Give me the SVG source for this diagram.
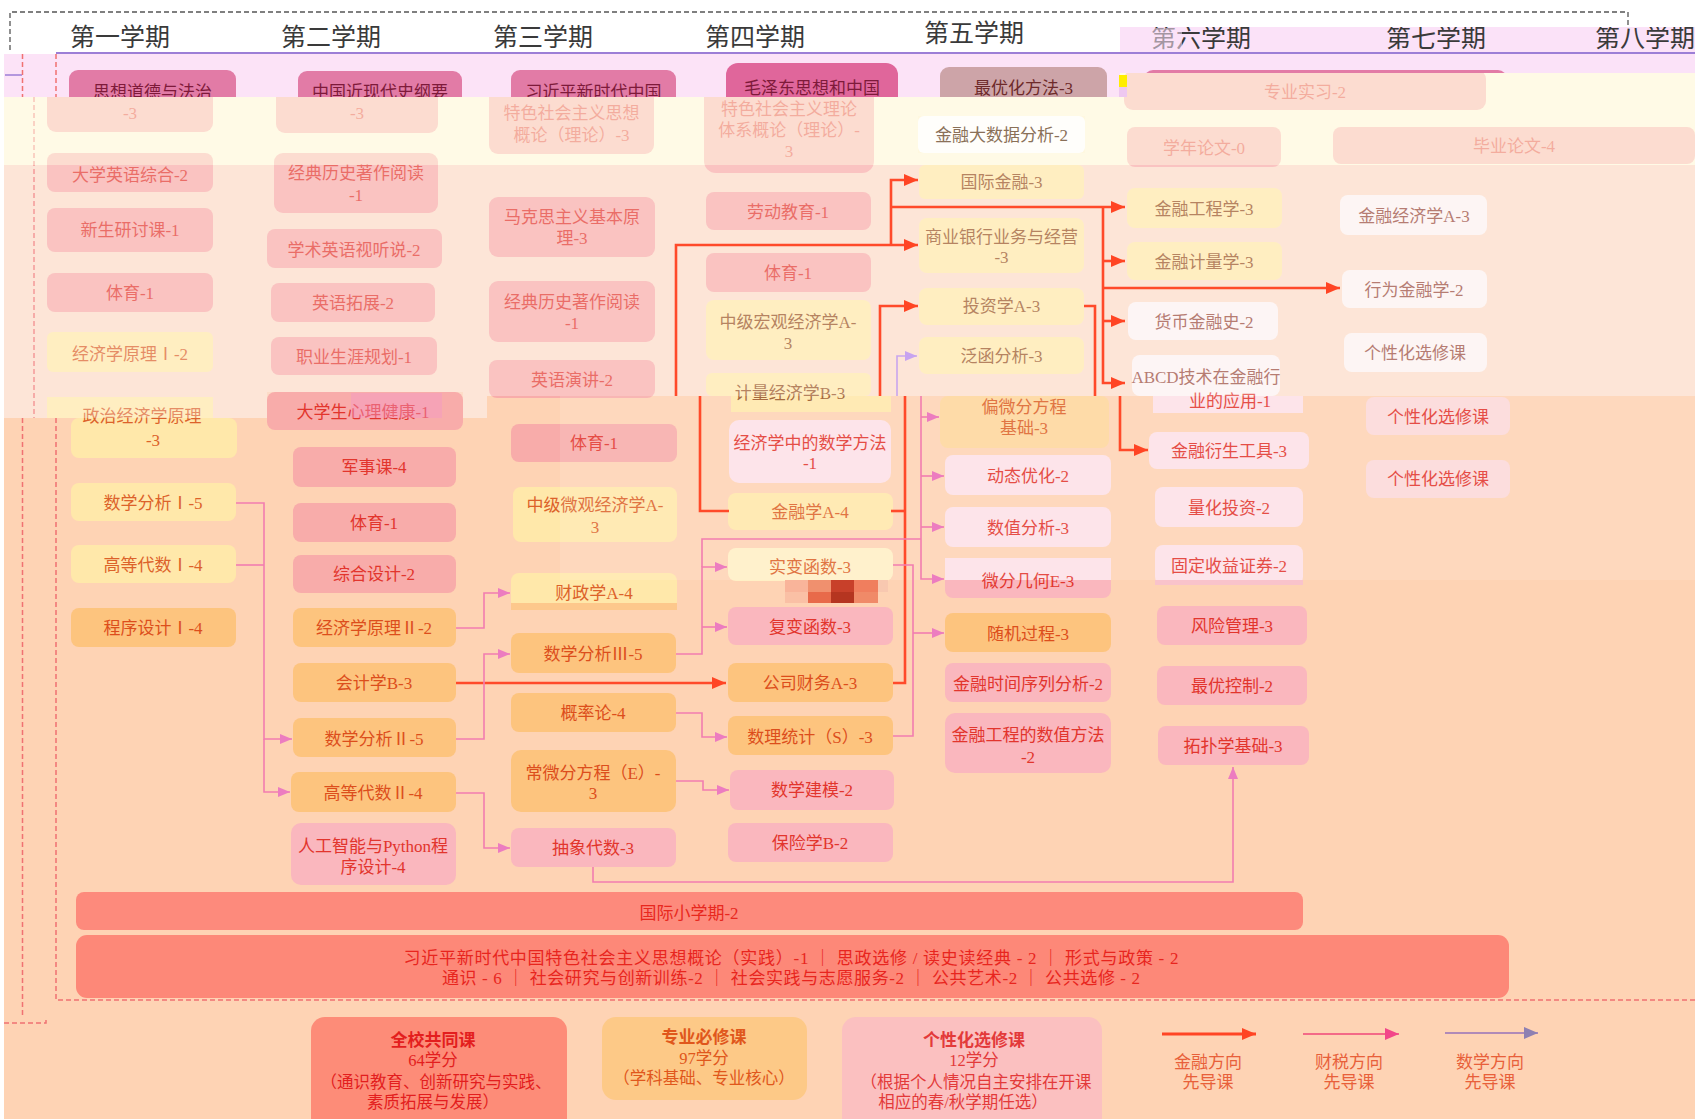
<svg xmlns="http://www.w3.org/2000/svg" width="1695" height="1119" viewBox="0 0 1695 1119">
<style>
text{font-family:"Liberation Serif","Noto Sans CJK SC","Noto Sans CJK JP",serif;font-size:17px;text-anchor:middle}
.hd{font-size:25px;fill:#3A3A3A}
.sal{fill:#F8ACAA}.yel{fill:#FFE8AA}.org{fill:#FDC47E}.pnk{fill:#FAB7BE}.lpk{fill:#FDE1E7}.top{fill:#E27BA6}.po{fill:#FED79C}
.tr{fill:#E2352D}.ty{fill:#DC622A}.tyb{fill:#9A5424}.to{fill:#DC4E1C}.tm{fill:#7E1A3A}.tbr{fill:#9A4A3C}
.cr{fill:none;stroke:#FF4A2A;stroke-width:2.6}
.cp{fill:none;stroke:#F27DB0;stroke-width:1.6}
.cl{fill:none;stroke:#C9A6EE;stroke-width:1.6}
.dsh{fill:none;stroke:#F07272;stroke-width:1.5;stroke-dasharray:5 3}
.lg{font-size:16.5px}
.lt{font-size:17px;fill:#E8603A}
</style>
<defs>
<clipPath id="cT"><rect x="0" y="0" width="1120" height="97"/><rect x="1120" y="0" width="575" height="73"/></clipPath>
<clipPath id="cM"><rect x="0" y="97" width="1120" height="1022"/><rect x="1120" y="73" width="575" height="1046"/></clipPath>
<marker id="mR" viewBox="0 0 14 12" refX="14" refY="6" markerWidth="14" markerHeight="12" markerUnits="userSpaceOnUse" orient="auto"><path d="M0,0L14,6L0,12z" fill="#FF4524"/></marker>
<marker id="mP" viewBox="0 0 12 10" refX="12" refY="5" markerWidth="12" markerHeight="10" markerUnits="userSpaceOnUse" orient="auto"><path d="M0,0L12,5L0,10z" fill="#EC7CC0"/></marker>
<marker id="mL" viewBox="0 0 12 10" refX="12" refY="5" markerWidth="12" markerHeight="10" markerUnits="userSpaceOnUse" orient="auto"><path d="M0,0L12,5L0,10z" fill="#C7A3F0"/></marker>
<marker id="mF" viewBox="0 0 14 12" refX="14" refY="6" markerWidth="14" markerHeight="12" markerUnits="userSpaceOnUse" orient="auto"><path d="M0,0L14,6L0,12z" fill="#F2468A"/></marker>
<marker id="mM" viewBox="0 0 14 12" refX="14" refY="6" markerWidth="14" markerHeight="12" markerUnits="userSpaceOnUse" orient="auto"><path d="M0,0L14,6L0,12z" fill="#8E80B2"/></marker>
</defs>

<!-- backgrounds -->
<rect x="0" y="0" width="1695" height="1119" fill="#FFFFFF"/>
<rect x="4" y="396" width="1691" height="723" fill="#FED3B4"/>
<polygon points="4,165 1695,165 1695,396 487,396 487,418 4,418" fill="#FDDCC8"/>
<rect x="4" y="97" width="1116" height="68" fill="#FFF8E0"/>
<rect x="1120" y="73" width="575" height="92" fill="#FFF8E0"/>
<rect x="4" y="54" width="1116" height="43" fill="#FCE3F7"/>
<rect x="1120" y="27" width="575" height="46" fill="#FBE2F8"/>

<!-- frame lines -->
<g id="frame">
<path d="M56,53 H1695" stroke="#9C7ED6" stroke-width="2" fill="none"/>
<path d="M5,75 H22" stroke="#9C7ED6" stroke-width="1.5" fill="none"/>
<path class="dsh" d="M22.5,54 V97 M56,54 V97"/>
<path class="dsh" d="M34,97 V418" stroke="#F4A6A6"/>
<path class="dsh" d="M22.5,418 V1017 M56,418 V1000 H1695 M4,1023 H46 V1018"/>
</g>

<!-- top nodes (pink band part + shifted faded part) -->
<g id="n-szdd">
<g clip-path="url(#cT)"><rect class="top" x="69" y="70" width="167" height="62" rx="9"/><text class="tm" x="152.5" y="98">思想道德与法治</text></g>
<g clip-path="url(#cM)"><rect class="sal" x="47" y="70" width="166" height="62" rx="9"/><text class="tr" x="130" y="119">-3</text></g>
</g>
<g id="n-zgjxd">
<g clip-path="url(#cT)"><rect class="top" x="298" y="71" width="164" height="62" rx="9"/><text class="tm" x="380" y="98">中国近现代史纲要</text></g>
<g clip-path="url(#cM)"><rect class="sal" x="276" y="71" width="162" height="62" rx="9"/><text class="tr" x="357" y="119">-3</text></g>
</g>
<g id="n-xjp">
<g clip-path="url(#cT)"><rect class="top" x="511" y="70" width="165" height="84" rx="9"/><text class="tm" x="593.5" y="98">习近平新时代中国</text></g>
<g clip-path="url(#cM)"><rect class="sal" x="489" y="70" width="165" height="84" rx="9"/><text class="tr"><tspan x="571.5" y="119">特色社会主义思想</tspan><tspan x="571.5" y="141">概论（理论）-3</tspan></text></g>
</g>
<g id="n-mzd">
<g clip-path="url(#cT)"><rect x="726" y="63" width="172" height="110" rx="12" fill="#E0669B"/><text class="tm" x="812" y="94">毛泽东思想和中国</text></g>
<g clip-path="url(#cM)"><rect class="sal" x="704" y="63" width="170" height="110" rx="12"/><text class="tr"><tspan x="789" y="115">特色社会主义理论</tspan><tspan x="789" y="136">体系概论（理论）-</tspan><tspan x="789" y="157">3</tspan></text></g>
</g>
<g id="n-zyh">
<g clip-path="url(#cT)"><rect x="940" y="67" width="167" height="45" rx="9" fill="#CDA4A8"/><text x="1023.5" y="94" fill="#6E2A2A">最优化方法-3</text></g>
</g>
<g id="n-zysx">
<g clip-path="url(#cT)"><rect class="top" x="1144" y="70" width="363" height="40" rx="9"/></g>
<g clip-path="url(#cM)"><rect class="sal" x="1124" y="70" width="362" height="40" rx="9"/><text class="tr" x="1305" y="98">专业实习-2</text></g>
</g>

<!-- upper/middle nodes -->
<g id="n-jrdsj"><rect x="918" y="116" width="167" height="37" rx="6" fill="#FFFEFB"/><text x="1001.5" y="141" fill="#8A7058">金融大数据分析-2</text></g>
<g id="n-xnlw"><rect class="sal" x="1127" y="127" width="154" height="40" rx="8"/><text class="tr" x="1204" y="154">学年论文-0</text></g>
<g id="n-bylw"><rect class="sal" x="1333" y="127" width="362" height="37" rx="8"/><text class="tr" x="1514" y="152">毕业论文-4</text></g>

<g id="n-dxyy"><rect class="sal" x="47" y="153" width="166" height="39" rx="8"/><text class="tr" x="130" y="181">大学英语综合-2</text></g>
<g id="n-xsyt"><rect class="sal" x="47" y="208" width="166" height="44" rx="8"/><text class="tr" x="130" y="236">新生研讨课-1</text></g>
<g id="n-ty1"><rect class="sal" x="47" y="273" width="166" height="39" rx="8"/><text class="tr" x="130" y="299">体育-1</text></g>
<g id="n-jjxyl1"><rect class="yel" x="47" y="332" width="166" height="40" rx="6"/><text class="ty" x="130" y="360">经济学原理Ⅰ-2</text></g>
<g id="n-zzjj"><rect class="yel" x="47" y="397" width="166" height="21"/><rect class="yel" x="71" y="418" width="166" height="40" rx="8"/><text class="ty"><tspan x="142" y="422">政治经济学原理</tspan><tspan x="153" y="446">-3</tspan></text></g>

<g id="n-jdls1"><rect class="sal" x="274" y="153" width="164" height="60" rx="9"/><text class="tr"><tspan x="356" y="179">经典历史著作阅读</tspan><tspan x="356" y="201">-1</tspan></text></g>
<g id="n-xsyy"><rect class="sal" x="267" y="229" width="175" height="39" rx="8"/><text class="tr" x="354" y="256">学术英语视听说-2</text></g>
<g id="n-yytz"><rect class="sal" x="271" y="283" width="164" height="39" rx="8"/><text class="tr" x="353" y="309">英语拓展-2</text></g>
<g id="n-zysy"><rect class="sal" x="271" y="337" width="166" height="38" rx="8"/><text class="tr" x="354" y="363">职业生涯规划-1</text></g>

<g id="n-mks"><rect class="sal" x="489" y="197" width="166" height="60" rx="9"/><text class="tr"><tspan x="572" y="223">马克思主义基本原</tspan><tspan x="572" y="244">理-3</tspan></text></g>
<g id="n-jdls2"><rect class="sal" x="489" y="281" width="166" height="61" rx="9"/><text class="tr"><tspan x="572" y="308">经典历史著作阅读</tspan><tspan x="572" y="329">-1</tspan></text></g>
<g id="n-yyyj"><rect class="sal" x="489" y="360" width="166" height="38" rx="8"/><text class="tr" x="572" y="386">英语演讲-2</text></g>

<g id="n-ldjy"><rect class="sal" x="706" y="192" width="165" height="38" rx="8"/><text class="tr" x="788" y="218">劳动教育-1</text></g>
<g id="n-ty4"><rect class="sal" x="706" y="253" width="165" height="39" rx="8"/><text class="tr" x="788" y="279">体育-1</text></g>
<g id="n-zjhg"><rect class="yel" x="706" y="300" width="165" height="60" rx="8"/><text class="tyb"><tspan x="788" y="328">中级宏观经济学A-</tspan><tspan x="788" y="349">3</tspan></text></g>
<g id="n-jljj"><rect class="yel" x="706" y="373" width="165" height="23" rx="6"/><rect class="yel" x="731" y="396" width="160" height="16"/><text class="tyb" x="790" y="399">计量经济学B-3</text></g>

<g id="n-gjjr"><rect class="yel" x="919" y="165" width="165" height="34" rx="6"/><text class="tyb" x="1001.5" y="188">国际金融-3</text></g>
<g id="n-syyh"><rect class="yel" x="919" y="218" width="165" height="55" rx="8"/><text class="tyb"><tspan x="1001.5" y="243">商业银行业务与经营</tspan><tspan x="1001.5" y="263">-3</tspan></text></g>
<g id="n-tzx"><rect class="yel" x="919" y="288" width="165" height="37" rx="8"/><text class="tyb" x="1001.5" y="312">投资学A-3</text></g>
<g id="n-fhfx"><rect class="yel" x="919" y="337" width="165" height="37" rx="8"/><text class="tyb" x="1001.5" y="362">泛函分析-3</text></g>

<g id="n-jrgc"><rect class="yel" x="1127" y="188" width="155" height="40" rx="8"/><text class="tyb" x="1204" y="215">金融工程学-3</text></g>
<g id="n-jrjl"><rect class="yel" x="1127" y="242" width="155" height="38" rx="8"/><text class="tyb" x="1204" y="268">金融计量学-3</text></g>
<g id="n-hbjr"><rect x="1128" y="302" width="150" height="38" rx="8" fill="#FDF2F2"/><text class="tbr" x="1204" y="328">货币金融史-2</text></g>
<g id="n-abcd"><rect x="1132" y="355" width="148" height="41" rx="8" fill="#FDF2F2"/><rect class="lpk" x="1153" y="396" width="150" height="17"/><text class="tbr"><tspan x="1206" y="383">ABCD技术在金融行</tspan><tspan x="1230" y="407" fill="#E2352D">业的应用-1</tspan></text></g>

<g id="n-jrjjx"><rect x="1340" y="195" width="147" height="40" rx="8" fill="#FDF2F0"/><text class="tbr" x="1414" y="222">金融经济学A-3</text></g>
<g id="n-xwjr"><rect x="1342" y="270" width="145" height="38" rx="8" fill="#FDF2F0"/><text class="tbr" x="1414" y="296">行为金融学-2</text></g>
<g id="n-gxh1"><rect x="1344" y="333" width="143" height="39" rx="8" fill="#FDF2F0"/><text class="tbr" x="1415" y="359">个性化选修课</text></g>

<!-- lower nodes -->
<g id="n-sxfx1"><rect class="yel" x="71" y="483" width="165" height="38" rx="8"/><text class="ty" x="153" y="509">数学分析Ⅰ-5</text></g>
<g id="n-gddz1"><rect class="yel" x="71" y="545" width="165" height="38" rx="8"/><text class="ty" x="153" y="571">高等代数Ⅰ-4</text></g>
<g id="n-cxsj1"><rect class="org" x="71" y="608" width="165" height="39" rx="8"/><text class="to" x="153" y="634">程序设计Ⅰ-4</text></g>

<g id="n-dxsxl"><rect class="sal" x="267" y="392" width="196" height="38" rx="8"/><text class="tr" x="363" y="418">大学生心理健康-1</text><rect x="351" y="393" width="91" height="25" fill="#F39AC6" opacity="0.45"/></g>
<g id="n-jsk"><rect class="sal" x="293" y="447" width="163" height="40" rx="8"/><text class="tr" x="374" y="473">军事课-4</text></g>
<g id="n-ty2"><rect class="sal" x="293" y="503" width="163" height="39" rx="8"/><text class="tr" x="374" y="529">体育-1</text></g>
<g id="n-zhsj"><rect class="sal" x="293" y="555" width="163" height="38" rx="8"/><text class="tr" x="374" y="580">综合设计-2</text></g>
<g id="n-jjxyl2"><rect class="org" x="293" y="608" width="163" height="39" rx="8"/><text class="to" x="374" y="634">经济学原理Ⅱ-2</text></g>
<g id="n-kjx"><rect class="org" x="293" y="663" width="163" height="39" rx="8"/><text class="to" x="374" y="689">会计学B-3</text></g>
<g id="n-sxfx2"><rect class="org" x="293" y="718" width="163" height="39" rx="8"/><text class="to" x="374" y="745">数学分析Ⅱ-5</text></g>
<g id="n-gddz2"><rect class="org" x="291" y="772" width="165" height="40" rx="8"/><text class="to" x="373" y="799">高等代数Ⅱ-4</text></g>
<g id="n-rgzn"><rect class="pnk" x="291" y="823" width="165" height="62" rx="10"/><text class="tr"><tspan x="373" y="852">人工智能与Python程</tspan><tspan x="373" y="873">序设计-4</tspan></text></g>

<g id="n-ty3"><rect class="sal" x="511" y="424" width="166" height="38" rx="8"/><text class="tr" x="594" y="449">体育-1</text></g>
<g id="n-zjwg"><rect class="yel" x="513" y="487" width="164" height="55" rx="8"/><text class="ty"><tspan x="595" y="511">中级微观经济学A-</tspan><tspan x="595" y="533">3</tspan></text></g>
<g id="n-czx"><rect class="yel" x="511" y="573" width="166" height="37" rx="8"/><rect x="511" y="603" width="166" height="7" fill="#FDC88C"/><text class="ty" x="594" y="599">财政学A-4</text></g>
<g id="n-sxfx3"><rect class="org" x="511" y="633" width="165" height="40" rx="8"/><text class="to" x="593" y="660">数学分析Ⅲ-5</text></g>
<g id="n-glv"><rect class="org" x="511" y="693" width="165" height="39" rx="8"/><text class="to" x="593" y="719">概率论-4</text></g>
<g id="n-cwf"><rect class="org" x="511" y="750" width="165" height="62" rx="10"/><text class="to"><tspan x="593" y="779">常微分方程（E）-</tspan><tspan x="593" y="799">3</tspan></text></g>
<g id="n-cxds"><rect class="pnk" x="511" y="828" width="165" height="39" rx="8"/><text class="tr" x="593" y="854">抽象代数-3</text></g>

<g id="n-sxff"><rect class="lpk" x="729" y="420" width="162" height="63" rx="10"/><text class="tr"><tspan x="810" y="449">经济学中的数学方法</tspan><tspan x="810" y="469">-1</tspan></text></g>
<g id="n-jrx"><rect class="yel" x="728" y="493" width="165" height="37" rx="8"/><text class="ty" x="810" y="518">金融学A-4</text></g>
<g id="n-sbhs"><rect x="728" y="548" width="165" height="33" rx="8" fill="#FFF0C5"/><text class="ty" x="810" y="573">实变函数-3</text></g>
<g id="n-fbhs"><rect class="pnk" x="728" y="607" width="165" height="38" rx="8"/><text class="tr" x="810" y="633">复变函数-3</text></g>
<g id="n-gscw"><rect class="org" x="728" y="663" width="165" height="39" rx="8"/><text class="to" x="810" y="689">公司财务A-3</text></g>
<g id="n-sltj"><rect class="org" x="728" y="716" width="165" height="39" rx="8"/><text class="to" x="810" y="743">数理统计（S）-3</text></g>
<g id="n-sxjm"><rect class="pnk" x="730" y="770" width="164" height="40" rx="8"/><text class="tr" x="812" y="796">数学建模-2</text></g>
<g id="n-bxx"><rect class="pnk" x="728" y="823" width="165" height="39" rx="8"/><text class="tr" x="810" y="849">保险学B-2</text></g>

<g id="n-pwf"><rect class="po" x="940" y="396" width="169" height="52" rx="8"/><text class="ty"><tspan x="1024" y="413">偏微分方程</tspan><tspan x="1024" y="434">基础-3</tspan></text></g>
<g id="n-dtyh"><rect class="lpk" x="945" y="455" width="166" height="40" rx="8"/><text class="tr" x="1028" y="482">动态优化-2</text></g>
<g id="n-szfx"><rect class="lpk" x="945" y="507" width="166" height="40" rx="8"/><text class="tr" x="1028" y="534">数值分析-3</text></g>
<g id="n-wfjh"><rect class="pnk" x="945" y="558" width="166" height="40" rx="8"/><rect class="lpk" x="945" y="558" width="166" height="22"/><text class="tr" x="1028" y="587">微分几何E-3</text></g>
<g id="n-sjgc"><rect class="org" x="945" y="613" width="166" height="39" rx="8"/><text class="to" x="1028" y="640">随机过程-3</text></g>
<g id="n-jrsj"><rect class="pnk" x="945" y="663" width="166" height="39" rx="8"/><text class="tr" x="1028" y="690">金融时间序列分析-2</text></g>
<g id="n-jrgcsz"><rect class="pnk" x="945" y="713" width="166" height="60" rx="10"/><text class="tr"><tspan x="1028" y="741">金融工程的数值方法</tspan><tspan x="1028" y="763">-2</tspan></text></g>

<g id="n-jrys"><rect class="lpk" x="1149" y="432" width="160" height="37" rx="8"/><text class="tr" x="1229" y="457">金融衍生工具-3</text></g>
<g id="n-lhtz"><rect class="lpk" x="1155" y="487" width="148" height="40" rx="8"/><text class="tr" x="1229" y="514">量化投资-2</text></g>
<g id="n-gdsy"><rect class="lpk" x="1155" y="545" width="148" height="40" rx="8"/><rect x="1155" y="580" width="148" height="5" fill="#F9C3CB"/><text class="tr" x="1229" y="572">固定收益证券-2</text></g>
<g id="n-fxgl"><rect class="pnk" x="1157" y="606" width="150" height="39" rx="8"/><text class="tr" x="1232" y="632">风险管理-3</text></g>
<g id="n-zykz"><rect class="pnk" x="1157" y="666" width="150" height="39" rx="8"/><text class="tr" x="1232" y="692">最优控制-2</text></g>
<g id="n-tpx"><rect class="pnk" x="1158" y="726" width="151" height="39" rx="8"/><text class="tr" x="1233" y="752">拓扑学基础-3</text></g>

<g id="n-gxh2"><rect x="1366" y="397" width="144" height="38" rx="8" fill="#FCD9D9"/><text class="tr" x="1438" y="423">个性化选修课</text></g>
<g id="n-gxh3"><rect x="1366" y="460" width="144" height="38" rx="8" fill="#FCD9D9"/><text class="tr" x="1438" y="485">个性化选修课</text></g>

<g id="n-gjxxq"><rect x="76" y="892" width="1227" height="38" rx="8" fill="#FD8A7C"/><text x="689" y="919" fill="#E8281E">国际小学期-2</text></g>
<g id="n-tsk"><rect x="76" y="935" width="1433" height="63" rx="11" fill="#FD8878"/>
<text fill="#E8251E"><tspan x="791" y="964" textLength="775" lengthAdjust="spacing">习近平新时代中国特色社会主义思想概论（实践）-1 ｜ 思政选修 / 读史读经典 - 2 ｜ 形式与政策 - 2</tspan><tspan x="791" y="984" textLength="698" lengthAdjust="spacing">通识 - 6 ｜ 社会研究与创新训练-2 ｜ 社会实践与志愿服务-2 ｜ 公共艺术-2 ｜ 公共选修 - 2</tspan></text></g>

<!-- overlays (washed bands) -->
<path d="M4,97 H1120 V73 H1695 V165 H4 Z M918,116 V153 H1085 V116 Z" fill="#FFFBEA" fill-opacity="0.6" fill-rule="evenodd"/>
<polygon points="4,165 1695,165 1695,396 487,396 487,418 463,418 463,392 267,392 267,418 4,418" fill="#FFFFFF" fill-opacity="0.28"/>
<rect x="560" y="396" width="1135" height="184" fill="#FFFFFF" fill-opacity="0.12"/>

<!-- glitch block -->
<g id="glitch">
<rect x="785" y="580" width="23" height="12" fill="#F9B49A"/><rect x="808" y="580" width="23" height="12" fill="#F0906E"/><rect x="831" y="580" width="23" height="12" fill="#C8402A"/><rect x="854" y="580" width="24" height="12" fill="#F07E5E"/><rect x="878" y="580" width="10" height="12" fill="#F8C8B0"/>
<rect x="785" y="592" width="23" height="11" fill="#FAC0A5"/><rect x="808" y="592" width="23" height="11" fill="#E86A4A"/><rect x="831" y="592" width="23" height="11" fill="#B53520"/><rect x="854" y="592" width="24" height="11" fill="#F08A68"/>
<rect x="1119" y="75" width="8" height="12" fill="#FFEE00"/><rect x="1119" y="87" width="8" height="10" fill="#EEC8F0"/>
</g>

<!-- connectors -->
<g id="connectors">
<path class="cr" d="M456,683 H726" marker-end="url(#mR)"/>
<path class="cr" d="M893,683 H905 V396"/>
<path class="cr" d="M891,511 H905"/>
<path class="cr" d="M880,396 V306 H918" marker-end="url(#mR)"/>
<path class="cr" d="M729,511 H700 V396"/>
<path class="cr" d="M676,396 V245 H918" marker-end="url(#mR)"/>
<path class="cr" d="M891,245 V180 H918" marker-end="url(#mR)"/>
<path class="cr" d="M891,207 H1125" marker-end="url(#mR)"/>
<path class="cr" d="M1103,207 V383 H1125" marker-end="url(#mR)"/>
<path class="cr" d="M1103,261 H1125" marker-end="url(#mR)"/>
<path class="cr" d="M1103,321 H1125" marker-end="url(#mR)"/>
<path class="cr" d="M1103,288 H1340" marker-end="url(#mR)"/>
<path class="cr" d="M1084,306 H1095 V396"/>
<path class="cr" d="M1120,396 V450 H1148" marker-end="url(#mR)"/>

<path class="cp" d="M236,503 H264 V739 H292" marker-end="url(#mP)"/>
<path class="cp" d="M236,565 H264"/>
<path class="cp" d="M264,739 V792 H290" marker-end="url(#mP)"/>
<path class="cp" d="M456,628 H484 V593 H510" marker-end="url(#mP)"/>
<path class="cp" d="M456,739 H484 V654 H510" marker-end="url(#mP)"/>
<path class="cp" d="M456,793 H484 V848 H510" marker-end="url(#mP)"/>
<path class="cp" d="M676,713 H702 V737 H727" marker-end="url(#mP)"/>
<path class="cp" d="M676,781 H703 V790 H729" marker-end="url(#mP)"/>
<path class="cp" d="M593,867 V882 H1233 V767" marker-end="url(#mP)"/>
<path class="cp" d="M676,654 H702 V567 H727" marker-end="url(#mP)"/>
<path class="cp" d="M702,627 H727" marker-end="url(#mP)"/>
<path class="cp" d="M702,567 V539 H921"/>
<path class="cp" d="M921,396 V579 H944" marker-end="url(#mP)"/>
<path class="cp" d="M921,417 H939" marker-end="url(#mP)"/>
<path class="cp" d="M921,476 H944" marker-end="url(#mP)"/>
<path class="cp" d="M921,527 H944" marker-end="url(#mP)"/>
<path class="cp" d="M893,565 H913 V736 H893"/>
<path class="cp" d="M913,633 H944" marker-end="url(#mP)"/>
<path class="cl" d="M897,396 V356 H917" marker-end="url(#mL)"/>
</g>

<!-- legend -->
<g id="lg-qx"><rect x="311" y="1017" width="256" height="115" rx="14" fill="#FD8C78"/>
<text fill="#E31E1E"><tspan x="433" y="1046" font-weight="bold">全校共同课</tspan><tspan class="lg" x="433" y="1066">64学分</tspan><tspan class="lg" x="436" y="1088">（通识教育、创新研究与实践、</tspan><tspan class="lg" x="433" y="1108">素质拓展与发展）</tspan></text></g>
<g id="lg-zy"><rect x="602" y="1017" width="205" height="83" rx="14" fill="#FDC987"/>
<text fill="#E0571C"><tspan x="704" y="1043" font-weight="bold">专业必修课</tspan><tspan class="lg" x="704" y="1064">97学分</tspan><tspan class="lg" x="704" y="1084">（学科基础、专业核心）</tspan></text></g>
<g id="lg-gx"><rect x="842" y="1017" width="260" height="115" rx="14" fill="#FBC0C0"/>
<text fill="#E33A3A"><tspan x="974" y="1046" font-weight="bold">个性化选修课</tspan><tspan class="lg" x="974" y="1066">12学分</tspan><tspan class="lg" x="976" y="1088">（根据个人情况自主安排在开课</tspan><tspan class="lg" x="963" y="1108">相应的春/秋学期任选）</tspan></text></g>
<g id="lg-arrows">
<path d="M1162,1034 H1256" stroke="#FF4524" stroke-width="3" fill="none" marker-end="url(#mR)"/>
<text class="lt"><tspan x="1208" y="1068">金融方向</tspan><tspan x="1208" y="1088">先导课</tspan></text>
<path d="M1303,1034 H1399" stroke="#F36A88" stroke-width="2" fill="none" marker-end="url(#mF)"/>
<text class="lt"><tspan x="1349" y="1068">财税方向</tspan><tspan x="1349" y="1088">先导课</tspan></text>
<path d="M1445,1033 H1538" stroke="#B08AB8" stroke-width="2" fill="none" marker-end="url(#mM)"/>
<text class="lt"><tspan x="1490" y="1068">数学方向</tspan><tspan x="1490" y="1088">先导课</tspan></text>
</g>

<!-- header -->
<g id="header">
<text class="hd" x="120" y="46">第一学期</text>
<text class="hd" x="331" y="46">第二学期</text>
<text class="hd" x="543" y="46">第三学期</text>
<text class="hd" x="755" y="46">第四学期</text>
<text class="hd" x="974" y="42">第五学期</text>
<text class="hd" x="1201" y="47">第六学期</text>
<text class="hd" x="1436" y="47">第七学期</text>
<text class="hd" x="1645" y="47">第八学期</text>
<rect x="1127" y="28" width="55" height="22" fill="#FBE2F8" fill-opacity="0.55"/>
<rect x="1115" y="14" width="580" height="13" fill="#FFFFFF"/>
<path d="M10,50 V12 H1628 V27" fill="none" stroke="#555555" stroke-width="1.3" stroke-dasharray="5 3"/>
</g>
</svg>
